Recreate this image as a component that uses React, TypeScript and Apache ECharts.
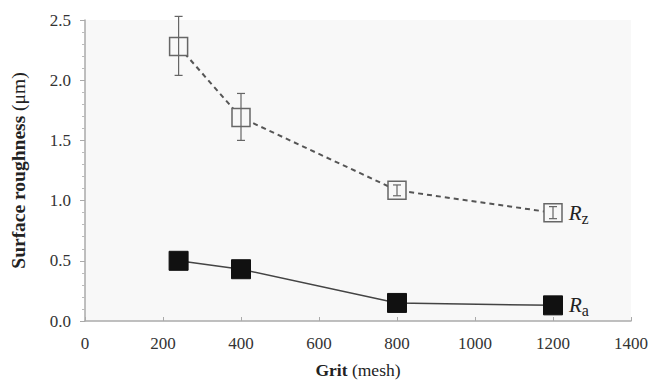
import React, { useEffect, useRef } from "react";
import * as echarts from "echarts";

const grit = [240, 400, 800, 1200];
const rzValues = [2.28, 1.69, 1.085, 0.9];
const rzErrLow = [2.04, 1.5, 1.04, 0.85];
const rzErrHigh = [2.53, 1.89, 1.13, 0.95];
const raValues = [0.5, 0.43, 0.15, 0.13];
const xTicks = [0, 200, 400, 600, 800, 1000, 1200, 1400];
const yTicks = [0, 0.5, 1.0, 1.5, 2.0, 2.5];

const FONT = "'Liberation Serif', 'DejaVu Serif', serif";

export default function App() {
  const ref = useRef<HTMLDivElement>(null);
  useEffect(() => {
    if (!ref.current) return;
    const chart = echarts.init(ref.current, undefined, { renderer: "svg" });
    const rzData = grit.map((g, i) => [g, rzValues[i]]);
    const raData = grit.map((g, i) => [g, raValues[i]]);
    const errData = grit.map((g, i) => [g, rzErrLow[i], rzErrHigh[i]]);
    const labelRich = {
      r: { fontFamily: FONT, fontStyle: "italic", fontSize: 21, color: "#222", verticalAlign: "bottom" },
      s: { fontFamily: FONT, fontSize: 16, color: "#222", verticalAlign: "bottom", padding: [0, 0, -3, 0] },
    };
    const xTitleRich = {
      b: { fontFamily: FONT, fontSize: 17.5, fontWeight: "bold", color: "#222" },
      n: { fontFamily: FONT, fontSize: 17.5, fontWeight: "normal", color: "#222" },
    };
    const yTitleRich = {
      b: { fontFamily: FONT, fontSize: 19.5, fontWeight: "bold", color: "#222" },
      n: { fontFamily: FONT, fontSize: 19.5, fontWeight: "normal", color: "#222" },
    };
    chart.setOption({
      animation: false,
      backgroundColor: "#ffffff",
      grid: {
        left: 84,
        right: 20,
        top: 20,
        bottom: 60,
        show: true,
        backgroundColor: "#f8f8f8",
        borderWidth: 0,
      },
      xAxis: {
        type: "value",
        min: xTicks[0],
        max: xTicks[xTicks.length - 1],
        interval: 200,
        name: "{b|Grit}{n| (mesh)}",
        nameLocation: "middle",
        nameGap: 40,
        nameTextStyle: { fontFamily: FONT, fontSize: 17.5, color: "#222", rich: xTitleRich },
        axisLine: { show: true, lineStyle: { color: "#aaa", width: 1.5 } },
        axisTick: { show: true, inside: true, length: 4, lineStyle: { color: "#aaa" } },
        minorTick: { show: false },
        splitLine: { show: false },
        axisLabel: {
          fontFamily: FONT,
          fontSize: 17,
          color: "#333",
          margin: 14,
          formatter: (v: number) => String(v),
        },
      },
      yAxis: {
        type: "value",
        min: yTicks[0],
        max: yTicks[yTicks.length - 1],
        interval: 0.5,
        name: "{b|Surface roughness}{n| (μm)}",
        nameLocation: "middle",
        nameGap: 57,
        nameTextStyle: { fontFamily: FONT, fontSize: 19.5, color: "#222", rich: yTitleRich },
        axisLine: { show: true, lineStyle: { color: "#aaa", width: 1.5 } },
        axisTick: { show: true, inside: false, length: 5, lineStyle: { color: "#aaa" } },
        minorTick: { show: true, splitNumber: 5, length: 3, lineStyle: { color: "#bbb" } },
        splitLine: { show: false },
        axisLabel: {
          fontFamily: FONT,
          fontSize: 17,
          color: "#333",
          margin: 14,
          formatter: (v: number) => v.toFixed(1),
        },
      },
      series: [
        {
          name: "Ra",
          type: "line",
          data: raData,
          symbol: "rect",
          symbolSize: 19,
          lineStyle: { color: "#444", width: 1.5 },
          itemStyle: { color: "#111", borderColor: "#111" },
          label: {
            show: true,
            position: "right",
            distance: 6,
            formatter: (p: any) => (p.dataIndex === grit.length - 1 ? "{r|R}{s|a}" : ""),
            rich: labelRich,
          },
          z: 3,
        },
        {
          name: "Rz",
          type: "line",
          data: rzData,
          symbol: "rect",
          symbolSize: 18,
          lineStyle: { color: "#555", width: 2, type: [5, 4] },
          itemStyle: { color: "#f8f8f8", borderColor: "#666", borderWidth: 1.5 },
          label: {
            show: true,
            position: "right",
            distance: 6,
            formatter: (p: any) => (p.dataIndex === grit.length - 1 ? "{r|R}{s|z}" : ""),
            rich: labelRich,
          },
          z: 3,
        },
        {
          name: "RzErr",
          type: "custom",
          data: errData,
          z: 5,
          renderItem: (params: any, api: any) => {
            const x = api.value(0);
            const lo = api.coord([x, api.value(1)]);
            const hi = api.coord([x, api.value(2)]);
            const cap = 4;
            const style = { stroke: "#666", lineWidth: 1.2 };
            return {
              type: "group",
              children: [
                { type: "line", shape: { x1: lo[0], y1: lo[1], x2: hi[0], y2: hi[1] }, style },
                { type: "line", shape: { x1: lo[0] - cap, y1: lo[1], x2: lo[0] + cap, y2: lo[1] }, style },
                { type: "line", shape: { x1: hi[0] - cap, y1: hi[1], x2: hi[0] + cap, y2: hi[1] }, style },
              ],
            };
          },
        },
      ],
    });
    return () => chart.dispose();
  }, []);
  return (
    <div
      ref={ref}
      style={{ position: "fixed", left: 0, top: 0, width: 651, height: 384 }}
    />
  );
}
